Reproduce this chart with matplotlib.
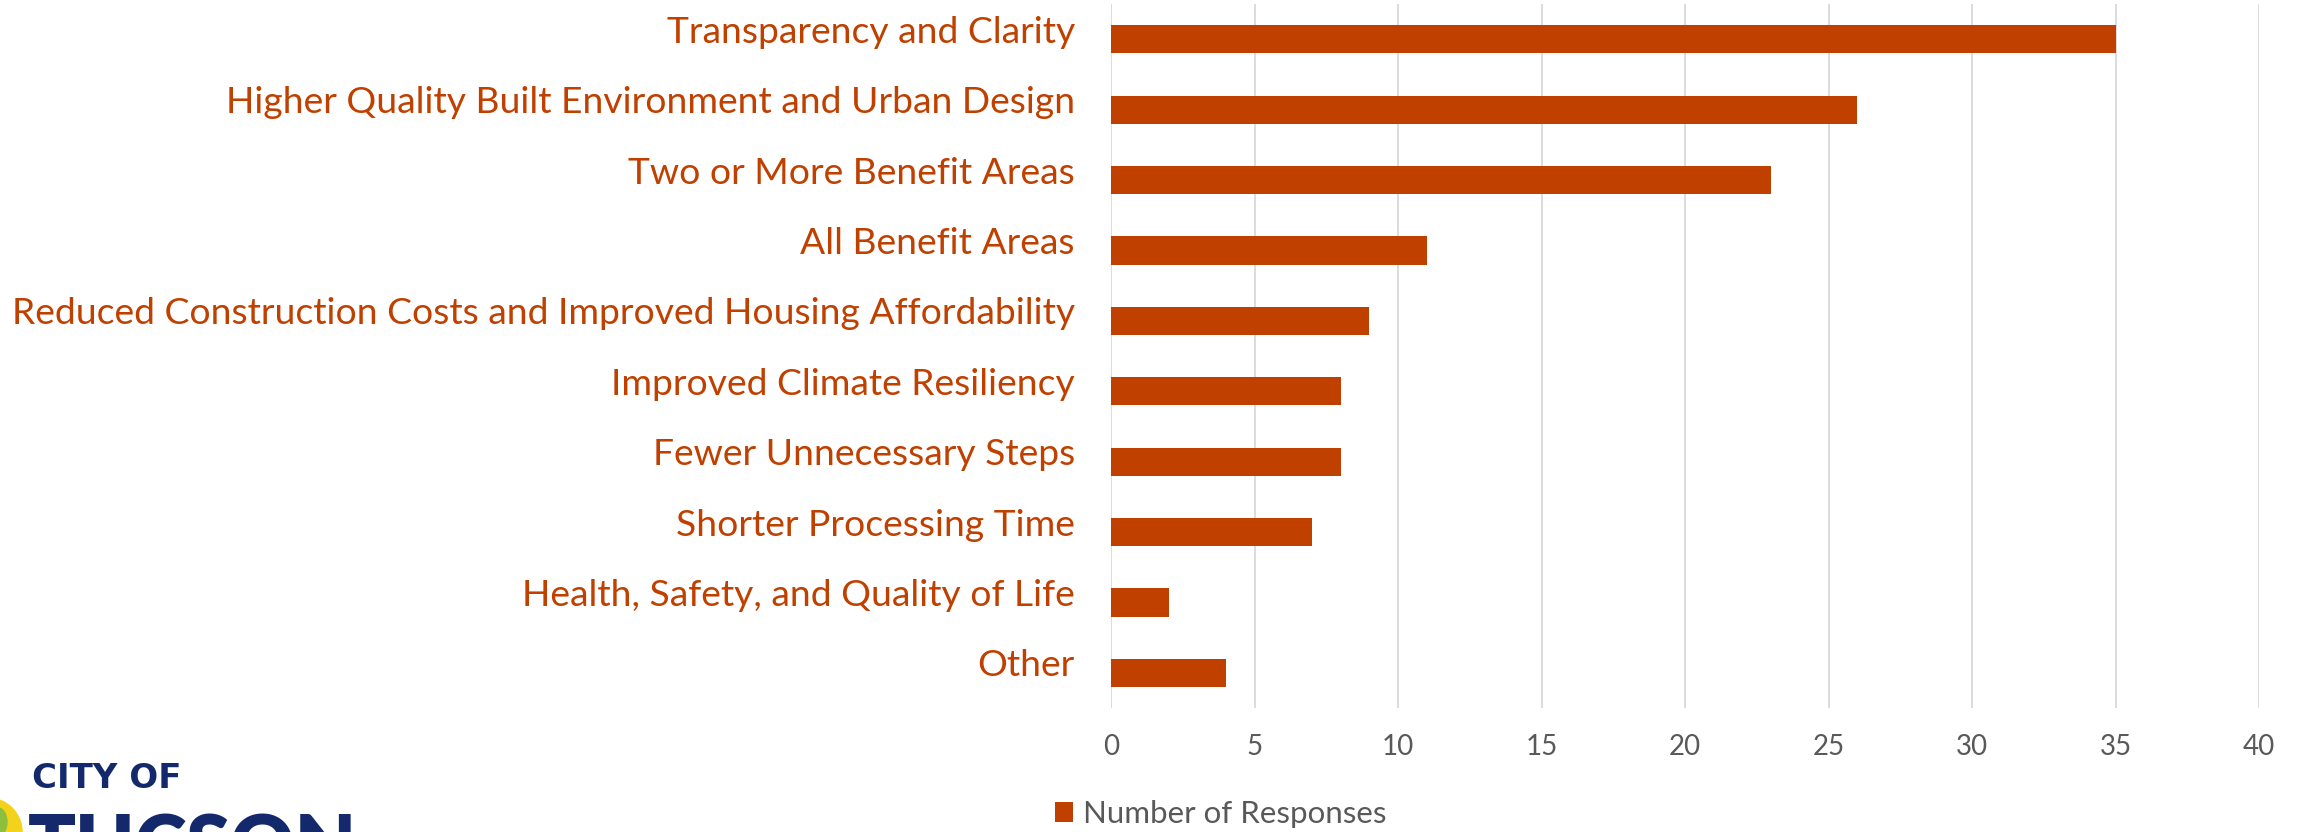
import matplotlib.pyplot as plt
import matplotlib.transforms as mtransforms
from matplotlib.patches import Ellipse

# Daten
categories = [
    "Transparency and Clarity",
    "Higher Quality Built Environment and Urban Design",
    "Two or More Benefit Areas",
    "All Benefit Areas",
    "Reduced Construction Costs and Improved Housing Affordability",
    "Improved Climate Resiliency",
    "Fewer Unnecessary Steps",
    "Shorter Processing Time",
    "Health, Safety, and Quality of Life",
    "Other",
]
responses = [35, 26, 23, 11, 9, 8, 8, 7, 2, 4]
x_ticks = [0, 5, 10, 15, 20, 25, 30, 35, 40]
series_name = "Number of Responses"

bar_color = "#C04000"
label_color = "#C04000"
tick_color = "#595959"
grid_color = "#D9D9D9"
navy = "#14296B"

plt.rcParams['font.family'] = ['Lato', 'DejaVu Sans']

W, H = 2310, 832
fig = plt.figure(figsize=(W / 100, H / 100), dpi=100)
ax = fig.add_axes([0.481, 0.149, 0.497, 0.846])

pos = list(range(len(categories)))[::-1]
ax.barh(pos, responses, height=0.4, color=bar_color, label=series_name, zorder=3)

ax.set_xlim(0, 40)
ax.set_ylim(-0.5, len(categories) - 0.5)
ax.set_xticks(x_ticks)
ax.set_xticklabels([str(t) for t in x_ticks], color=tick_color, fontsize=20)
ax.set_yticks(pos)
ax.set_yticklabels(categories, color=label_color, fontsize=26.8)
ax.tick_params(axis='y', length=0, pad=26)
ax.tick_params(axis='x', length=0, pad=19)

# Beschriftungen etwas nach oben schieben
shift = mtransforms.ScaledTranslation(0, 0.10, fig.dpi_scale_trans)
for lbl in ax.get_yticklabels():
    lbl.set_transform(lbl.get_transform() + shift)

ax.grid(axis='x', color=grid_color, linewidth=1.3, zorder=0)
for s in ax.spines.values():
    s.set_visible(False)

leg = fig.legend(loc='center', bbox_to_anchor=(0.5283, 0.022), frameon=False,
                 fontsize=22.5, handlelength=0.6, handleheight=0.6, handletextpad=0.3)
for t in leg.get_texts():
    t.set_color(tick_color)

# Logo unten links
fig.add_artist(Ellipse((-12 / W, 0.0), 2 * 34 / W, 2 * 34 / H,
                       transform=fig.transFigure, color="#F2D21B", zorder=0))
fig.add_artist(Ellipse((-2 / W, 10 / H), 2 * 9 / W, 2 * 14 / H,
                       transform=fig.transFigure, color="#8DBF3F", zorder=1))
fig.text(0.014, 0.044, "CITY OF", color=navy, fontsize=24.5, fontweight='bold',
         family='DejaVu Sans', ha='left', va='bottom')
fig.text(0.012, -0.064, "TUCSON", color=navy, fontsize=57, fontweight='heavy',
         ha='left', va='bottom')

fig.savefig("out.png", dpi=100)
